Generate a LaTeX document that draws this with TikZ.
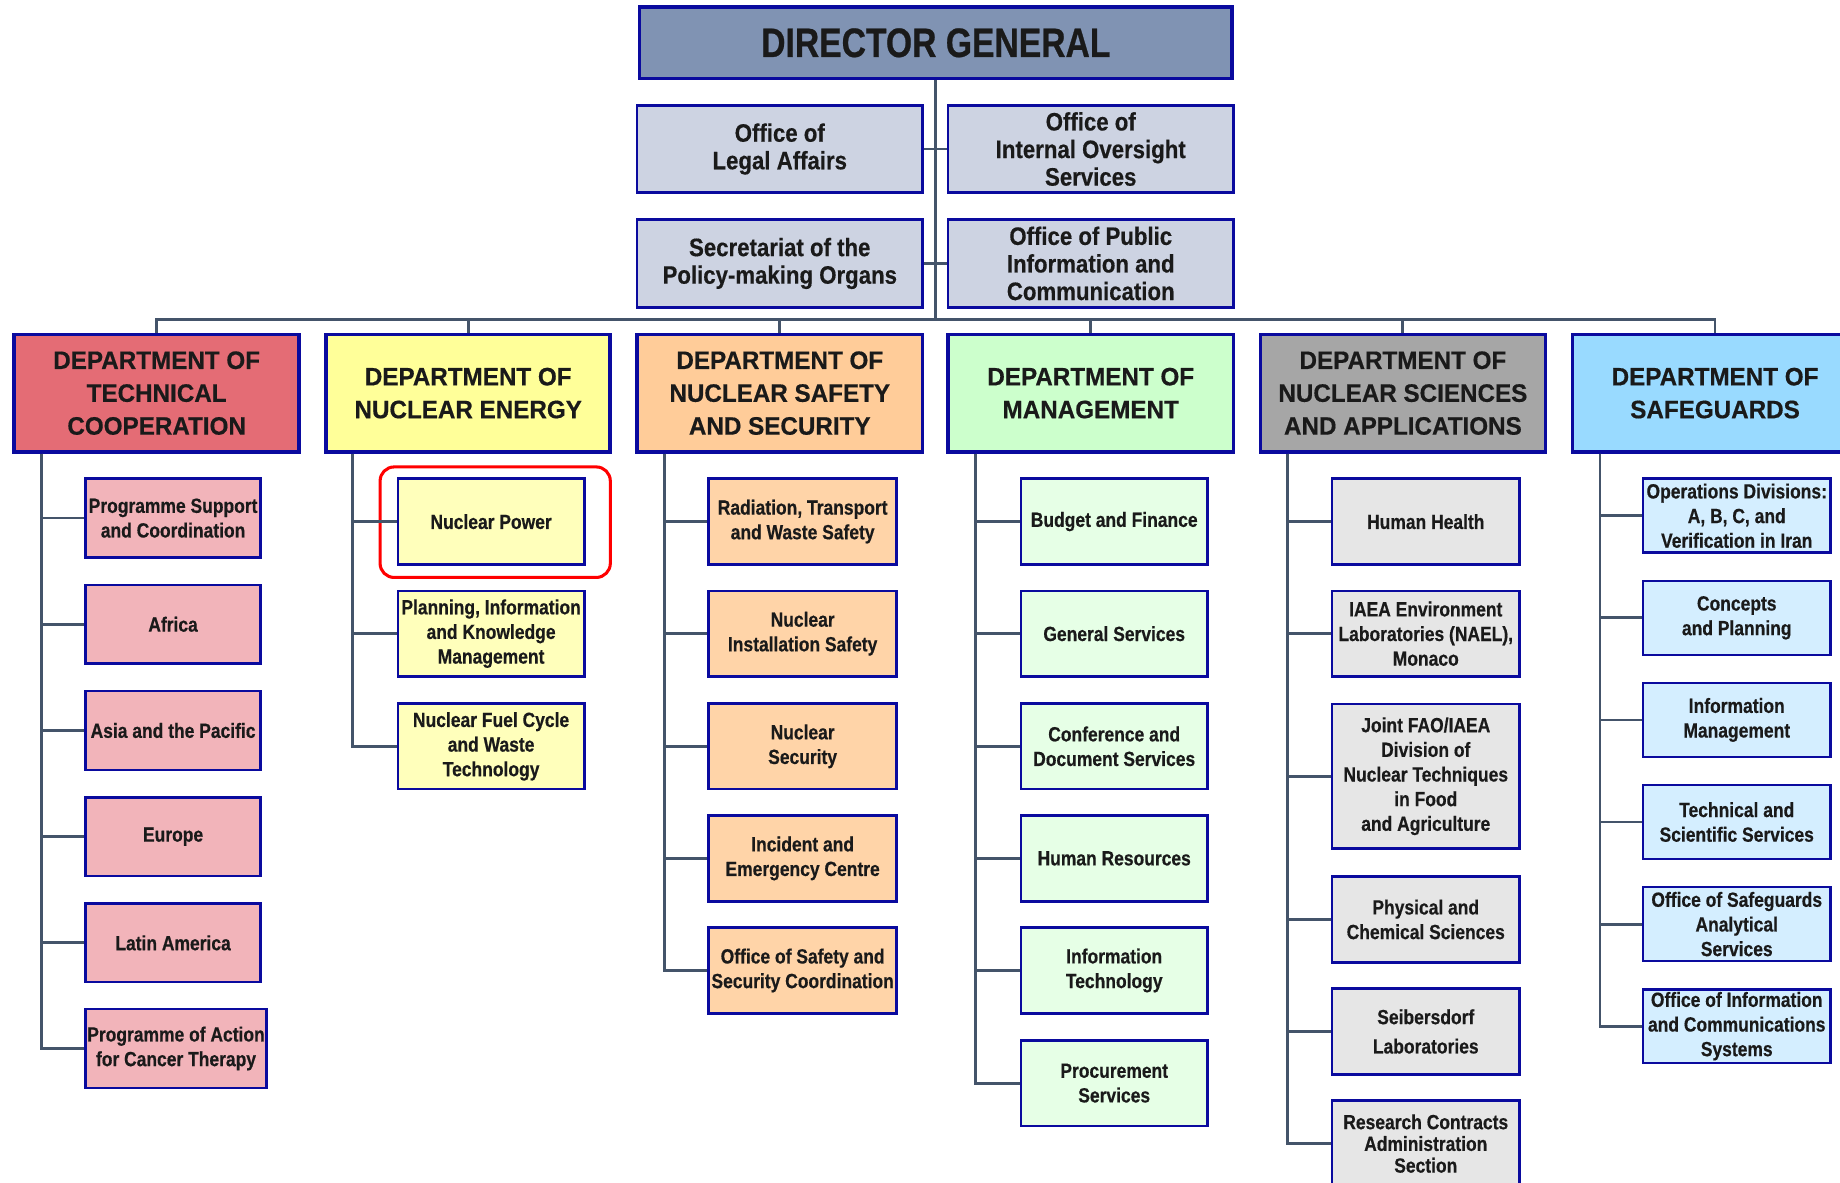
\documentclass[tikz,border=0pt]{standalone}
\usepackage{fontspec}
\setmainfont{Liberation Sans}
\newfontfamily\narrowfont[FakeStretch=0.85, BoldFeatures={FakeBold=0.5}]{Liberation Sans}
\newfontfamily\dgfont[FakeStretch=0.82, BoldFeatures={FakeBold=0.6}]{Liberation Sans}
\newfontfamily\officefont[FakeStretch=0.88, BoldFeatures={FakeBold=0.4}]{Liberation Sans}
\newfontfamily\deptfont[FakeStretch=0.96, BoldFeatures={FakeBold=0.5}]{Liberation Sans}
\usetikzlibrary{fit}
\definecolor{navy}{HTML}{0A0A9E}
\definecolor{conncol}{HTML}{44546A}
\definecolor{txt}{HTML}{1A1A1A}
\definecolor{dgfill}{HTML}{8093B3}
\definecolor{offfill}{HTML}{CDD3E2}
\definecolor{tcdept}{HTML}{E46C75}
\definecolor{tcsub}{HTML}{F2B4BA}
\definecolor{nedept}{HTML}{FFFF99}
\definecolor{nesub}{HTML}{FFFFBB}
\definecolor{nssdept}{HTML}{FFCC99}
\definecolor{nsssub}{HTML}{FFD4A8}
\definecolor{mgdept}{HTML}{CCFFCC}
\definecolor{mgsub}{HTML}{E6FFE6}
\definecolor{nadept}{HTML}{A6A6A6}
\definecolor{nasub}{HTML}{E6E6E6}
\definecolor{sgdept}{HTML}{99DAFF}
\definecolor{sgsub}{HTML}{D4EEFF}
\tikzset{
  box/.style={draw=navy, align=center, inner sep=0pt, text=txt},
  dgbox/.style={box, line width=3pt, fill=dgfill, minimum width=505, minimum height=61,
    font=\dgfont\bfseries\fontsize{35}{40}\selectfont},
  office/.style={box, line width=2pt, fill=offfill, minimum width=243, minimum height=74,
    font=\officefont\bfseries\fontsize{21.5}{23.5}\selectfont},
  dept/.style={box, line width=3pt, minimum width=243, minimum height=100,
    font=\deptfont\bfseries\fontsize{21.5}{28}\selectfont},
  sub/.style={box, line width=2.2pt, font=\narrowfont\bfseries\fontsize{17.5}{21}\selectfont},
  tcs/.style={sub, fill=tcsub, minimum width=149, minimum height=67},
  nes/.style={sub, fill=nesub, minimum width=159, minimum height=73},
  nss/.style={sub, fill=nsssub, minimum width=160, minimum height=73},
  mgs/.style={sub, fill=mgsub, minimum width=159, minimum height=73},
  nas/.style={sub, fill=nasub, minimum width=160, minimum height=73},
  sgs/.style={sub, fill=sgsub, minimum width=160, minimum height=63},
  conn/.style={draw=conncol, line width=2.4pt},
  highlight/.style={draw=red, line width=2.6pt, rounded corners=12pt}
}
\begin{document}
\begin{tikzpicture}[x=1pt,y=-1pt]
\useasboundingbox (0,0) rectangle (1568,1008);
\clip (0,0) rectangle (1568,1008);

% Director general and offices
\node[dgbox] (dg) at (797.5,36.5) {DIRECTOR GENERAL};
\node[office] (legal) at (664.5,127) {Office of\\Legal Affairs};
\node[office] (ios) at (929.5,127) {Office of\\Internal Oversight\\Services};
\node[office, minimum height=75] (sec) at (664.5,224.5) {Secretariat of the\\Policy-making Organs};
\node[office, minimum height=75] (pub) at (929.5,224.5) {Office of Public\\Information and\\Communication};

% Departments
\node[dept, fill=tcdept] (tc) at (133.5,335) {DEPARTMENT OF\\TECHNICAL\\COOPERATION};
\node[dept, fill=nedept, minimum width=242] (ne) at (399,335) {DEPARTMENT OF\\NUCLEAR ENERGY};
\node[dept, fill=nssdept] (nss) at (664.5,335) {DEPARTMENT OF\\NUCLEAR SAFETY\\AND SECURITY};
\node[dept, fill=mgdept] (mg) at (929.5,335) {DEPARTMENT OF\\MANAGEMENT};
\node[dept, fill=nadept] (na) at (1195.5,335) {DEPARTMENT OF\\NUCLEAR SCIENCES\\AND APPLICATIONS};
\node[dept, fill=sgdept] (sg) at (1461.5,335) {DEPARTMENT OF\\SAFEGUARDS};

\coordinate (bus) at (797.5,272);

% top connectors
\draw[conn] (dg.south) -- (bus);
\draw[conn] (legal.east) -- (ios.west);
\draw[conn] (sec.east) -- (pub.west);
\draw[conn] (tc.north) |- (sg.north |- bus) -- (sg.north);
\foreach \d in {ne,nss,mg,na} \draw[conn] (\d.north) -- (\d.north |- bus);

% Technical cooperation
\node[tcs] (tc1) at (147.5,441.5) {Programme Support\\and Coordination};
\node[tcs] (tc2) at (147.5,532) {Africa};
\node[tcs] (tc3) at (147.5,622.5) {Asia and the Pacific};
\node[tcs] (tc4) at (147.5,713) {Europe};
\node[tcs] (tc5) at (147.5,803.5) {Latin America};
\node[tcs, minimum width=154] (tc6) at (150,893.5) {Programme of Action\\for Cancer Therapy};

% Nuclear energy
\node[nes] (ne1) at (418.5,444.5) {Nuclear Power};
\node[nes] (ne2) at (418.5,540) {Planning, Information\\and Knowledge\\Management};
\node[nes] (ne3) at (418.5,636) {Nuclear Fuel Cycle\\and Waste\\Technology};
\draw[highlight] ([xshift=-14pt,yshift=9pt]ne1.north west) rectangle ([xshift=21pt,yshift=-10pt]ne1.south east);

% Nuclear safety and security
\node[nss] (nss1) at (684,444.5) {Radiation, Transport\\and Waste Safety};
\node[nss] (nss2) at (684,540) {Nuclear\\Installation Safety};
\node[nss] (nss3) at (684,636) {Nuclear\\Security};
\node[nss] (nss4) at (684,731.5) {Incident and\\Emergency Centre};
\node[nss] (nss5) at (684,827) {Office of Safety and\\Security Coordination};

% Management
\node[mgs] (mg1) at (949.5,444.5) {Budget and Finance};
\node[mgs] (mg2) at (949.5,540) {General Services};
\node[mgs] (mg3) at (949.5,636) {Conference and\\Document Services};
\node[mgs] (mg4) at (949.5,731.5) {Human Resources};
\node[mgs] (mg5) at (949.5,827) {Information\\Technology};
\node[mgs] (mg6) at (949.5,923) {Procurement\\Services};

% Nuclear sciences and applications
\node[nas] (na1) at (1215,444.5) {Human Health};
\node[nas] (na2) at (1215,540) {IAEA Environment\\Laboratories (NAEL),\\Monaco};
\node[nas, minimum height=123] (na3) at (1215,661.5) {Joint FAO/IAEA\\Division of\\Nuclear Techniques\\in Food\\and Agriculture};
\node[nas] (na4) at (1215,783.5) {Physical and\\Chemical Sciences};
\node[nas, font=\narrowfont\bfseries\fontsize{17.5}{25}\selectfont] (na5) at (1215,879) {Seibersdorf\\Laboratories};
\node[nas, font=\narrowfont\bfseries\fontsize{17.5}{18.5}\selectfont] (na6) at (1215,974.5) {Research Contracts\\Administration\\Section};

% Safeguards
\node[sgs] (sg1) at (1480,439.5) {Operations Divisions:\\A, B, C, and\\Verification in Iran};
\node[sgs] (sg2) at (1480,526.5) {Concepts\\and Planning};
\node[sgs] (sg3) at (1480,613.5) {Information\\Management};
\node[sgs] (sg4) at (1480,700.5) {Technical and\\Scientific Services};
\node[sgs] (sg5) at (1480,787.5) {Office of Safeguards\\Analytical\\Services};
\node[sgs] (sg6) at (1480,874.5) {Office of Information\\and Communications\\Systems};

% branch connectors
\foreach \i in {1,...,6} \draw[conn] ([xshift=25pt]tc.south west) |- (tc\i.west);
\foreach \i in {1,...,3} \draw[conn] ([xshift=24pt]ne.south west) |- (ne\i.west);
\foreach \i in {1,...,5} \draw[conn] ([xshift=25pt]nss.south west) |- (nss\i.west);
\foreach \i in {1,...,6} \draw[conn] ([xshift=25pt]mg.south west) |- (mg\i.west);
\foreach \i in {1,...,6} \draw[conn] ([xshift=25pt]na.south west) |- (na\i.west);
\foreach \i in {1,...,6} \draw[conn] ([xshift=25pt]sg.south west) |- (sg\i.west);
\end{tikzpicture}
\end{document}
